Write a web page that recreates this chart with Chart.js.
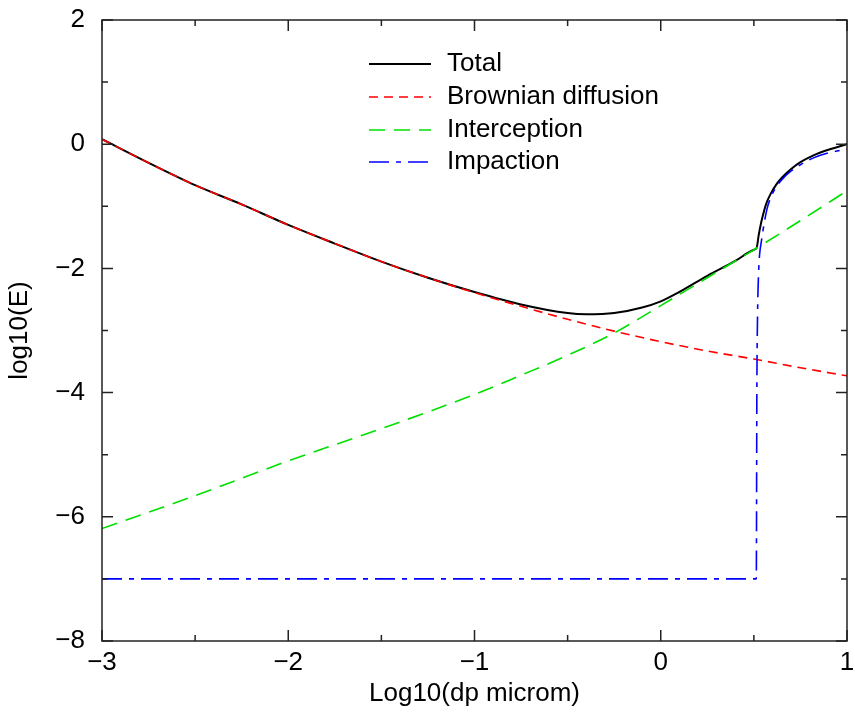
<!DOCTYPE html>
<html>
<head>
<meta charset="utf-8">
<script src="https://cdn.jsdelivr.net/npm/chart.js@4.4.1/dist/chart.umd.min.js"></script>
<style>
  html, body { margin: 0; padding: 0; background: #fff; }
  #wrap { width: 855px; height: 719px; }
</style>
</head>
<body>
<div id="wrap"><canvas id="chart" width="855" height="719"></canvas></div>
<script>
// axis ticks
const xTicks = [-3, -2, -1, 0, 1];
const xMinor = [-2.5, -1.5, -0.5, 0.5];
const yTicks = [2, 0, -2, -4, -6, -8];
const yMinor = [1, -1, -3, -5, -7];

// Total
const totalX = [-3, -2.75, -2.5, -2.25, -2, -1.75, -1.5, -1.25, -1, -0.75, -0.5, -0.4, -0.25, -0.1, 0, 0.1, 0.25, 0.4, 0.5, 0.515,
                0.525, 0.54, 0.555, 0.57, 0.59, 0.62, 0.65, 0.70, 0.75, 0.82, 0.90, 1.0];
const totalY = [0.08, -0.30, -0.66, -0.97, -1.30, -1.60, -1.89, -2.15, -2.38, -2.58, -2.72, -2.74, -2.72, -2.63, -2.53, -2.38, -2.12, -1.88, -1.70, -1.67,
                -1.48, -1.25, -1.07, -0.93, -0.80, -0.65, -0.54, -0.40, -0.29, -0.18, -0.09, 0.0];

// Brownian diffusion
const brownX = [-3, -2.75, -2.5, -2.25, -2, -1.75, -1.5, -1.25, -1, -0.75, -0.5, -0.25, 0, 0.25, 0.5, 0.75, 1];
const brownY = [0.08, -0.30, -0.66, -0.97, -1.30, -1.60, -1.89, -2.15, -2.39, -2.61, -2.82, -3.01, -3.18, -3.33, -3.46, -3.60, -3.73];

// Interception
const interX = [-3, -2.5, -2, -1.5, -1, -0.75, -0.5, -0.25, 0, 0.25, 0.5, 0.75, 1];
const interY = [-6.19, -5.66, -5.10, -4.58, -4.03, -3.72, -3.40, -3.04, -2.60, -2.15, -1.70, -1.23, -0.75];

// Impaction
const impX = [-3, 0.513, 0.516, 0.52, 0.525, 0.53, 0.54, 0.555, 0.57, 0.59, 0.62, 0.65, 0.70, 0.75, 0.82, 0.90, 1.0];
const impY = [-7, -7, -4.0, -2.7, -2.1, -1.8, -1.57, -1.28, -1.05, -0.86, -0.69, -0.57, -0.43, -0.33, -0.22, -0.14, -0.08];

const pts = (xs, ys) => xs.map((x, i) => ({ x: x, y: ys[i] }));
const minus = v => (v < 0 ? '\u2212' + (-v) : String(v));

Chart.defaults.font.family = "'Liberation Sans', Arial, Helvetica, sans-serif";
Chart.defaults.font.size = 26;
Chart.defaults.color = '#000';

const line = (label, xs, ys, color, width, dash, order) => ({
    label: label,
    data: pts(xs, ys),
    showLine: true,
    borderColor: color,
    backgroundColor: color,
    borderWidth: width,
    borderDash: dash,
    pointRadius: 0,
    cubicInterpolationMode: 'monotone',
    fill: false,
    order: order
});

// frame with inside ticks on all four sides
const framePlugin = {
    id: 'frame',
    afterDatasetsDraw(chart) {
        const { ctx, chartArea: a, scales: { x, y } } = chart;
        ctx.save();
        ctx.strokeStyle = '#222';
        ctx.lineWidth = 1.5;
        ctx.strokeRect(a.left, a.top, a.right - a.left, a.bottom - a.top);
        ctx.beginPath();
        const xt = (v, len) => {
            const px = x.getPixelForValue(v);
            ctx.moveTo(px, a.bottom); ctx.lineTo(px, a.bottom - len);
            ctx.moveTo(px, a.top); ctx.lineTo(px, a.top + len);
        };
        const yt = (v, len) => {
            const py = y.getPixelForValue(v);
            ctx.moveTo(a.left, py); ctx.lineTo(a.left + len, py);
            ctx.moveTo(a.right, py); ctx.lineTo(a.right - len, py);
        };
        xTicks.forEach(v => xt(v, 11));
        xMinor.forEach(v => xt(v, 6));
        yTicks.forEach(v => yt(v, 11));
        yMinor.forEach(v => yt(v, 6));
        ctx.stroke();
        ctx.restore();
    }
};

// legend inside the plot area
const legendPlugin = {
    id: 'innerLegend',
    afterDraw(chart) {
        const ctx = chart.ctx;
        ctx.save();
        ctx.font = "26px 'Liberation Sans', Arial, sans-serif";
        ctx.textBaseline = 'middle';
        ctx.fillStyle = '#000';
        const rowY = [64, 97, 130, 162];
        chart.data.datasets.forEach((ds, i) => {
            const yy = rowY[i];
            ctx.beginPath();
            ctx.strokeStyle = ds.borderColor;
            ctx.lineWidth = ds.borderWidth;
            ctx.setLineDash(ds.borderDash || []);
            ctx.moveTo(369, yy);
            ctx.lineTo(431, yy);
            ctx.stroke();
            ctx.setLineDash([]);
            ctx.fillText(ds.label, 447, yy);
        });
        ctx.restore();
    }
};

new Chart(document.getElementById('chart').getContext('2d'), {
    type: 'scatter',
    data: {
        datasets: [
            line('Total', totalX, totalY, '#000000', 2, [], 4),
            line('Brownian diffusion', brownX, brownY, '#ff0000', 1.6, [9, 6], 3),
            line('Interception', interX, interY, '#00e000', 1.6, [16, 9], 2),
            line('Impaction', impX, impY, '#0000ff', 1.6, [20, 7, 5, 7], 1)
        ]
    },
    options: {
        responsive: false,
        animation: false,
        layout: { padding: { top: 20, right: 8, left: 0, bottom: 0 } },
        plugins: {
            legend: { display: false },
            tooltip: { enabled: false }
        },
        scales: {
            x: {
                type: 'linear',
                min: -3,
                max: 1,
                grid: { display: false, drawTicks: false },
                border: { display: false },
                afterBuildTicks: s => { s.ticks = xTicks.map(v => ({ value: v })); },
                afterFit: s => { s.height = 78; s.paddingLeft = 0; s.paddingRight = 0; },
                ticks: { padding: 6, maxRotation: 0, callback: minus },
                title: { display: true, text: 'Log10(dp microm)', padding: { top: 0, bottom: 10 } }
            },
            y: {
                type: 'linear',
                min: -8,
                max: 2,
                grid: { display: false, drawTicks: false },
                border: { display: false },
                afterBuildTicks: s => { s.ticks = yTicks.map(v => ({ value: v })); },
                afterFit: s => { s.width = 102; s.paddingTop = 0; s.paddingBottom = 0; },
                ticks: { padding: 17, callback: minus },
                title: { display: true, text: 'log10(E)', padding: { top: 4, bottom: 0 } }
            }
        }
    },
    plugins: [framePlugin, legendPlugin]
});
</script>
</body>
</html>
